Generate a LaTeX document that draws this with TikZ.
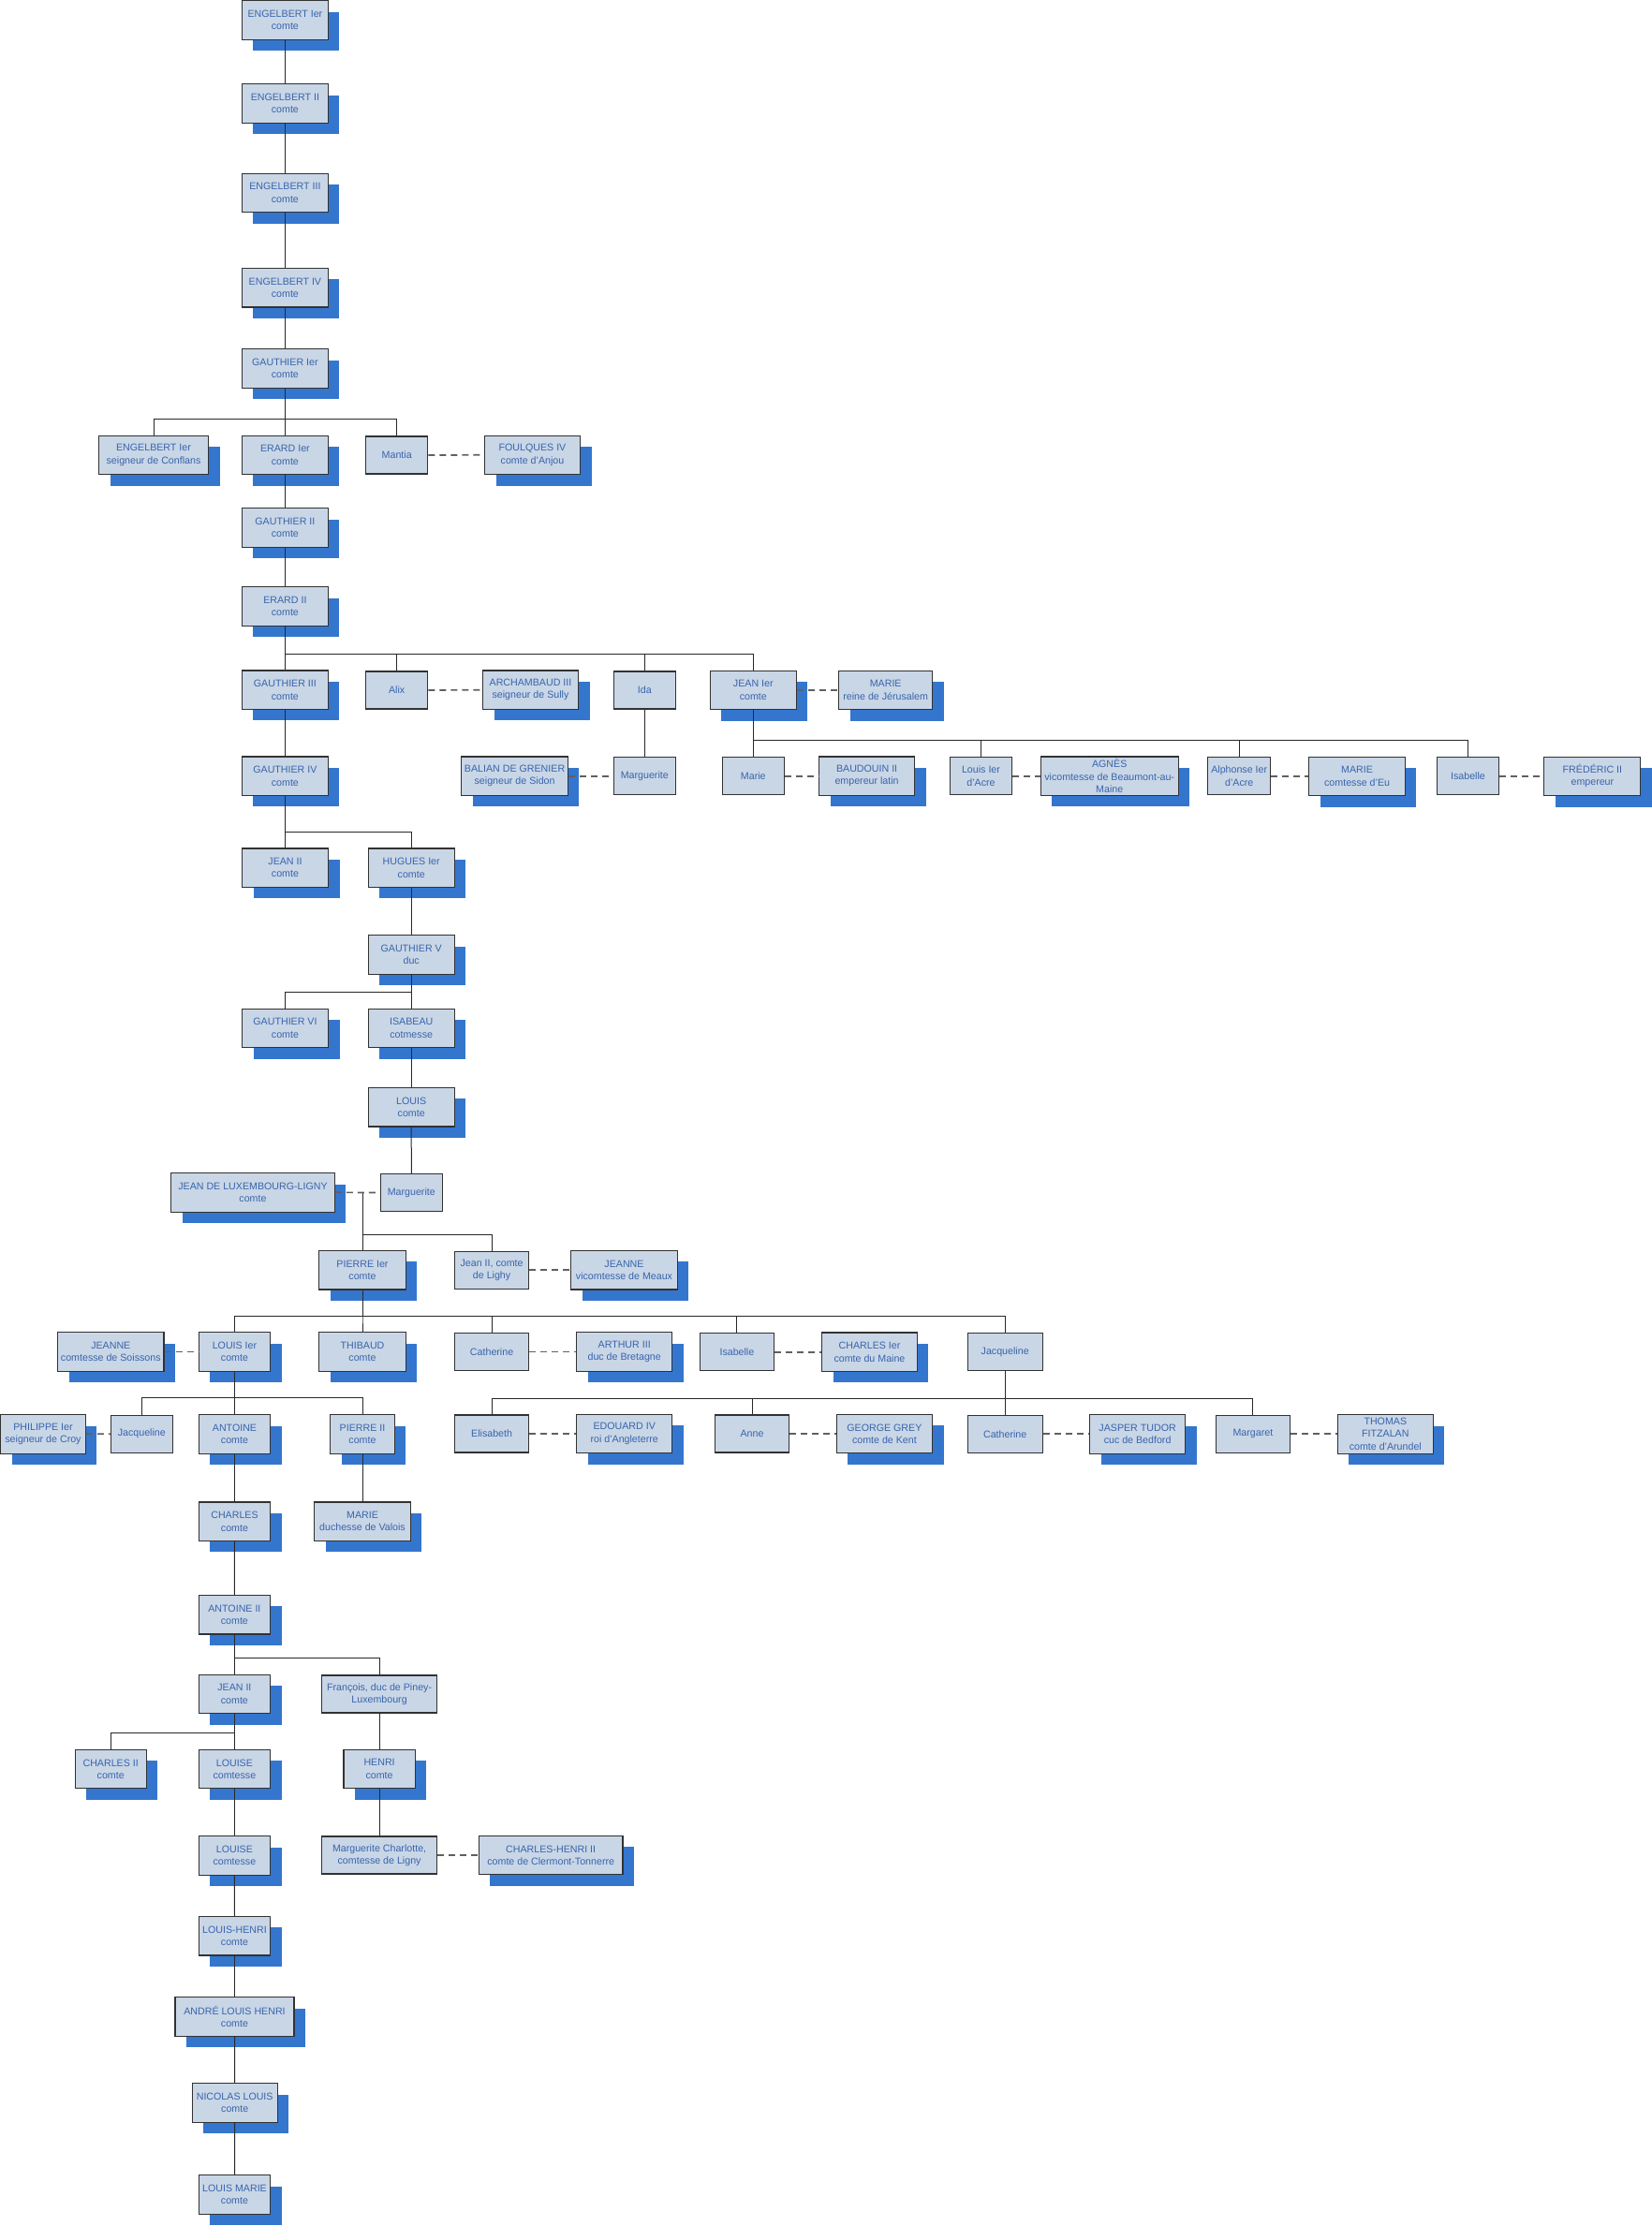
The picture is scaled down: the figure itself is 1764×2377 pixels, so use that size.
\documentclass[tikz,border=0pt]{standalone}
\usepackage{fontspec}
\setmainfont{Liberation Sans}
\usepackage{tikz}
\usetikzlibrary{shadows}
\definecolor{boxfill}{RGB}{201,214,230}
\definecolor{boxline}{RGB}{50,50,50}
\definecolor{namecol}{RGB}{56,100,172}
\definecolor{shadeblue}{RGB}{52,118,206}
\definecolor{wedgray}{RGB}{96,96,96}
\definecolor{kingray}{RGB}{40,40,40}

\begin{document}
\begin{tikzpicture}
		[x=1pt,y=-1pt,
		every node/.style={rectangle,draw=boxline,line width=1.1pt,fill=boxfill,text=namecol,align=center,inner xsep=1pt,inner ysep=0pt,minimum height=41.5pt,font=\fontsize{10.66}{13.3}\selectfont},
		plain/.style={minimum height=40pt},
		titled/.style={general shadow={fill=shadeblue,shadow xshift=12pt,shadow yshift=-12pt}},
		kin/.style={draw=kingray,line width=1pt},
		wed/.style={draw=wedgray,line width=1.7pt,dash pattern=on 7pt off 5pt}]
		\useasboundingbox (0,0) rectangle (1764,2377);
		\node[titled,minimum width=92pt] (eng1) at (304.4,21.5) {ENGELBERT Ier\\comte};
		\node[titled,minimum width=92pt] (eng2) at (304.4,110.5) {ENGELBERT II\\comte};
		\node[titled,minimum width=92pt] (eng3) at (304.4,205.8) {ENGELBERT III\\comte};
		\node[titled,minimum width=92pt] (eng4) at (304.4,307.2) {ENGELBERT IV\\comte};
		\node[titled,minimum width=92pt] (gau1) at (304.4,393.5) {GAUTHIER Ier\\comte};
		\node[titled,minimum width=117pt] (engc) at (164,485.8) {ENGELBERT Ier\\seigneur de Conflans};
		\node[titled,minimum width=92pt] (era1) at (304.4,485.8) {ERARD Ier\\comte};
		\node[plain,minimum width=66pt] (mantia) at (423.7,486) {Mantia};
		\node[titled,minimum width=102pt] (foulques) at (568.5,485.8) {FOULQUES IV\\comte d'Anjou};
		\node[titled,minimum width=92pt] (gau2) at (304.4,563.5) {GAUTHIER II\\comte};
		\node[titled,minimum width=92pt] (era2) at (304.4,647.5) {ERARD II\\comte};
		\node[titled,minimum width=92pt] (gau3) at (304.4,736.7) {GAUTHIER III\\comte};
		\node[plain,minimum width=66pt] (alix) at (423.7,737) {Alix};
		\node[titled,minimum width=102pt] (archambaud) at (566.5,736.7) {ARCHAMBAUD III\\seigneur de Sully};
		\node[plain,minimum width=66pt] (ida) at (688.3,737) {Ida};
		\node[titled,minimum width=92pt] (jean1) at (804.3,736.8) {JEAN Ier\\comte};
		\node[titled,minimum width=100pt] (marie1) at (945.7,736.8) {MARIE\\reine de Jérusalem};
		\node[titled,minimum width=92pt] (gau4) at (304.4,828.7) {GAUTHIER IV\\comte};
		\node[titled,minimum width=113.5pt] (balian) at (549.6,828.7) {BALIAN DE GRENIER\\seigneur de Sidon};
		\node[plain,minimum width=66pt] (margi) at (688.3,828.7) {Marguerite};
		\node[plain,minimum width=66pt] (marie2) at (804.3,828.7) {Marie};
		\node[titled,minimum width=102pt] (baudouin) at (925.6,828.7) {BAUDOUIN II\\empereur latin};
		\node[plain,minimum width=66pt] (louisa) at (1047.5,828.7) {Louis Ier\\d'Acre};
		\node[titled,minimum width=147pt] (agnes) at (1184.7,828.7) {AGNÈS\\vicomtesse de Beaumont-au-\\Maine};
		\node[plain,minimum width=66.6pt] (alphonse) at (1323.2,828.8) {Alphonse Ier\\d'Acre};
		\node[titled,minimum width=102.6pt] (mariee) at (1449.1,828.8) {MARIE\\comtesse d'Eu};
		\node[plain,minimum width=66pt] (isab1) at (1567.5,828.8) {Isabelle};
		\node[titled,minimum width=103pt] (frederic) at (1700.4,828.8) {FRÉDÉRIC II\\empereur};
		\node[titled,minimum width=92pt] (jean2) at (304.5,926.7) {JEAN II\\comte};
		\node[titled,minimum width=92pt] (hugues) at (439.2,926.7) {HUGUES Ier\\comte};
		\node[titled,minimum width=92pt] (gau5) at (439.2,1019.5) {GAUTHIER V\\duc};
		\node[titled,minimum width=92pt] (gau6) at (304.5,1097.8) {GAUTHIER VI\\comte};
		\node[titled,minimum width=92pt] (isabeau) at (439.2,1097.8) {ISABEAU\\cotmesse};
		\node[titled,minimum width=92pt] (louis) at (439.2,1182.2) {LOUIS\\comte};
		\node[titled,minimum width=174.6pt] (jeanlux) at (270,1273.3) {JEAN DE LUXEMBOURG-LIGNY\\comte};
		\node[plain,minimum width=66pt] (marg2) at (439.3,1273.5) {Marguerite};
		\coordinate (lux) at (387,1273.3);
		\node[titled,minimum width=92.6pt] (pierre1) at (387,1356.2) {PIERRE Ier\\comte};
		\node[plain,minimum width=79.6pt] (jeanl) at (525.1,1356.2) {Jean II, comte\\de Lighy};
		\node[titled,minimum width=113.7pt] (jeanne1) at (666.5,1356.2) {JEANNE\\vicomtesse de Meaux};
		\node[titled,minimum width=113.3pt] (jeanne2) at (118.3,1443.5) {JEANNE\\comtesse de Soissons};
		\node[titled,minimum width=76.5pt] (louis1) at (250.5,1443.5) {LOUIS Ier\\comte};
		\node[titled,minimum width=92.6pt] (thibaud) at (387,1443.5) {THIBAUD\\comte};
		\node[plain,minimum width=79.6pt] (cath1) at (525.1,1443.5) {Catherine};
		\node[titled,minimum width=101.8pt] (arthur) at (666.7,1443.5) {ARTHUR III\\duc de Bretagne};
		\node[plain,minimum width=79.6pt] (isab2) at (786.9,1443.7) {Isabelle};
		\node[titled,minimum width=101.8pt] (charles1) at (928.5,1443.7) {CHARLES Ier\\comte du Maine};
		\node[plain,minimum width=80pt] (jacq1) at (1073.2,1443.7) {Jacqueline};
		\node[titled,minimum width=90.6pt] (philippe) at (46,1531.3) {PHILIPPE Ier\\seigneur de Croy};
		\node[plain,minimum width=66pt] (jacq2) at (151.3,1531.2) {Jacqueline};
		\node[titled,minimum width=76.5pt] (antoine) at (250.5,1531.3) {ANTOINE\\comte};
		\node[titled,minimum width=68.6pt] (pierre2) at (387,1531.3) {PIERRE II\\comte};
		\node[plain,minimum width=79.6pt] (elisabeth) at (525.1,1531) {Elisabeth};
		\node[titled,minimum width=101.8pt] (edouard) at (666.7,1531) {EDOUARD IV\\roi d'Angleterre};
		\node[plain,minimum width=79.6pt] (anne) at (803,1531) {Anne};
		\node[titled,minimum width=102.2pt] (george) at (944.4,1531) {GEORGE GREY\\comte de Kent};
		\node[plain,minimum width=80pt] (cath2) at (1073.2,1531.3) {Catherine};
		\node[titled,minimum width=102.1pt] (jasper) at (1214.6,1531.3) {JASPER TUDOR\\cuc de Bedford};
		\node[plain,minimum width=79.3pt] (margaret) at (1337.9,1531.3) {Margaret};
		\node[titled,minimum width=102.2pt] (thomas) at (1479.3,1531.3) {THOMAS\\FITZALAN\\comte d'Arundel};
		\node[titled,minimum width=76.5pt] (charles) at (250.5,1624.7) {CHARLES\\comte};
		\node[titled,minimum width=102.6pt] (marie3) at (387,1624.7) {MARIE\\duchesse de Valois};
		\node[titled,minimum width=76.4pt] (antoine2) at (250.4,1724.2) {ANTOINE II\\comte};
		\node[titled,minimum width=76.4pt] (jean3) at (250.4,1808.8) {JEAN II\\comte};
		\node[plain,minimum width=122.8pt] (francois) at (405.1,1809) {François, duc de Piney-\\Luxembourg};
		\node[titled,minimum width=76.3pt] (charles2) at (118.2,1889) {CHARLES II\\comte};
		\node[titled,minimum width=76.4pt] (louise1) at (250.4,1889) {LOUISE\\comtesse};
		\node[titled,minimum width=76.3pt] (henri) at (405.1,1889) {HENRI\\comte};
		\node[titled,minimum width=76.4pt] (louise2) at (250.4,1981.3) {LOUISE\\comtesse};
		\node[plain,minimum width=122.8pt] (margc) at (405.1,1981) {Marguerite Charlotte,\\comtesse de Ligny};
		\node[titled,minimum width=153.5pt] (charlesh) at (588.2,1981) {CHARLES-HENRI II\\comte de Clermont-Tonnerre};
		\node[titled,minimum width=76.5pt] (louish) at (250.5,2067.2) {LOUIS-HENRI\\comte};
		\node[titled,minimum width=127pt] (andre) at (250.5,2153.3) {ANDRÉ LOUIS HENRI\\comte};
		\node[titled,minimum width=91.3pt] (nicolas) at (250.7,2245.3) {NICOLAS LOUIS\\comte};
		\node[titled,minimum width=76.5pt] (louism) at (250.5,2343.3) {LOUIS MARIE\\comte};
		
		\foreach \from/\to in {eng1/eng2,eng2/eng3,eng3/eng4,eng4/gau1,era1/gau2,gau2/era2,gau3/gau4,ida/margi,hugues/gau5,isabeau/louis,louis/marg2,antoine/charles,charles/antoine2,pierre2/marie3,francois/henri,henri/margc,louise1/louise2,louise2/louish,louish/andre,andre/nicolas,nicolas/louism}
		\draw[kin] (\from.south) -- (\to.north);
		\foreach \from/\to/\by in {gau1/engc/447.3,gau1/era1/447.3,gau1/mantia/447.3,era2/gau3/698.3,era2/alix/698.3,era2/ida/698.3,era2/jean1/698.3,jean1/marie2/790.7,jean1/louisa/790.7,jean1/alphonse/790.7,jean1/isab1/790.7,gau4/jean2/888,gau4/hugues/888,gau5/gau6/1059,gau5/isabeau/1059,pierre1/louis1/1405,pierre1/thibaud/1405,pierre1/cath1/1405,pierre1/isab2/1405,pierre1/jacq1/1405,louis1/jacq2/1492.7,louis1/antoine/1492.7,louis1/pierre2/1492.7,jacq1/elisabeth/1493.3,jacq1/anne/1493.3,jacq1/cath2/1493.3,jacq1/margaret/1493.3,antoine2/jean3/1770.7,antoine2/francois/1770.7,jean3/charles2/1850,jean3/louise1/1850}
		\draw[kin] (\from.south) |- (\to.north |- 0,\by) -- (\to.north);
		\draw[kin] (lux) -- (pierre1.north);
		\draw[kin] (lux) |- (jeanl.north |- 0,1318.3) -- (jeanl.north);
		\foreach \a/\b in {mantia/foulques,alix/archambaud,jean1/marie1,balian/margi,marie2/baudouin,louisa/agnes,alphonse/mariee,isab1/frederic,jeanlux/marg2,jeanl/jeanne1,jeanne2/louis1,cath1/arthur,isab2/charles1,philippe/jacq2,elisabeth/edouard,anne/george,cath2/jasper,margaret/thomas,margc/charlesh}
		\draw[wed] (\a.east) -- (\b.west);
\end{tikzpicture}
\end{document}
